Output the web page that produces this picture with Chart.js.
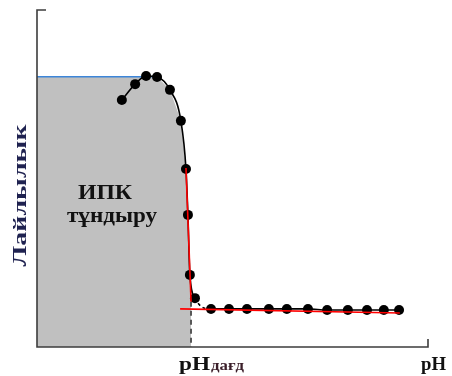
<!DOCTYPE html>
<html>
<head>
<meta charset="utf-8">
<script src="https://cdn.jsdelivr.net/npm/chart.js@4.4.1/dist/chart.umd.min.js"></script>
<style>
  html, body { margin: 0; padding: 0; background: #fff; }
  #wrap { width: 452px; height: 376px; }
</style>
</head>
<body>
<div id="wrap"><canvas id="chart" width="452" height="376"></canvas></div>
<script>
const phValues = [2.17, 2.51, 2.79, 3.07, 3.40, 3.68, 3.81, 3.86, 3.91, 4.04, 4.45, 4.91, 5.37, 5.93, 6.39, 6.93, 7.42, 7.95, 8.44, 8.87, 9.26];
const turbidity = [7.33, 7.80, 8.04, 8.01, 7.63, 6.71, 5.28, 3.92, 2.14, 1.45, 1.13, 1.13, 1.13, 1.13, 1.13, 1.13, 1.10, 1.10, 1.10, 1.10, 1.10];

// shaded precipitation zone (under the plateau and the falling branch)
const zoneX = [0, 3.07, 3.40, 3.68, 3.81, 3.86, 3.91, 3.94, 3.94];
const zoneY = [8.02, 8.02, 7.63, 6.71, 5.28, 3.92, 2.14, 1.34, 0];

// plateau level (blue line)
const plateauX = [0, 2.94];
const plateauY = [8.02, 8.02];

// tangent lines (red)
const steepX = [3.81, 3.94];
const steepY = [5.31, 1.34];
const flatX = [3.66, 9.28];
const flatY = [1.13, 1.01];

// pH of coagulation (dashed marker)
const pHdagd = 3.94;

const toPoints = (xs, ys) => xs.map((x, i) => ({ x, y: ys[i] }));

const SERIF = '"Liberation Serif", "DejaVu Serif", serif';

// draw text horizontally stretched to a given width
function fitText(ctx, text, x, y, font, width, color, align) {
    ctx.save();
    ctx.font = font;
    ctx.fillStyle = color;
    ctx.textBaseline = 'alphabetic';
    const w = ctx.measureText(text).width;
    const k = width / w;
    ctx.translate(x, y);
    ctx.scale(k, 1);
    ctx.textAlign = align || 'left';
    ctx.fillText(text, 0, 0);
    ctx.restore();
}

const decorPlugin = {
    id: 'decor',
    afterDatasetsDraw(chart) {
        const { ctx, chartArea: a, scales } = chart;
        const xs = scales.x, ys = scales.y;

        // dashed pH marker
        ctx.save();
        ctx.strokeStyle = '#111';
        ctx.lineWidth = 1.3;
        ctx.setLineDash([5, 4]);
        ctx.beginPath();
        ctx.moveTo(xs.getPixelForValue(pHdagd), ys.getPixelForValue(steepY[1]));
        ctx.lineTo(xs.getPixelForValue(pHdagd), a.bottom);
        ctx.stroke();
        ctx.restore();

        // axes
        ctx.save();
        ctx.strokeStyle = '#3c3c3c';
        ctx.lineWidth = 1.6;
        ctx.beginPath();
        ctx.moveTo(a.left + 9, a.top);
        ctx.lineTo(a.left, a.top);
        ctx.lineTo(a.left, a.bottom);
        ctx.lineTo(a.right, a.bottom);
        ctx.lineTo(a.right, a.bottom - 8);
        ctx.stroke();
        ctx.restore();
    },
    afterDraw(chart) {
        const { ctx, chartArea: a, scales } = chart;
        const bold = (s) => 'bold ' + s + 'px ' + SERIF;

        // y axis title, rotated
        ctx.save();
        ctx.translate(a.left - 11, (a.top + a.bottom) / 2 + 17);
        ctx.rotate(-Math.PI / 2);
        fitText(ctx, 'Лайлылык', -71, 0, bold(19), 142, '#1f2250', 'left');
        ctx.restore();

        // zone label
        ctx.save();
        ctx.textAlign = 'center';
        fitText(ctx, 'ИПК', 105, 199, bold(21), 54, '#111', 'center');
        fitText(ctx, 'тұндыру', 112, 222, bold(21), 90, '#111', 'center');
        ctx.restore();

        // x labels
        const px = scales.x.getPixelForValue(pHdagd);
        fitText(ctx, 'pH', px - 12, 370, bold(19), 31, '#111', 'left');
        fitText(ctx, 'дағд', px + 20, 370, bold(15), 33, '#3b1f2a', 'left');
        fitText(ctx, 'pH', a.right - 7, 370, bold(19), 25, '#111', 'left');
    }
};

new Chart(document.getElementById('chart'), {
    type: 'scatter',
    data: {
        datasets: [
            {
                data: toPoints(zoneX, zoneY),
                showLine: true,
                fill: 'origin',
                backgroundColor: '#c0c0c0',
                borderWidth: 0,
                pointRadius: 0,
                order: 5
            },
            {
                data: toPoints(plateauX, plateauY),
                showLine: true,
                borderColor: '#3d85d8',
                borderWidth: 1.5,
                pointRadius: 0,
                order: 4
            },
            {
                data: toPoints(steepX, steepY),
                showLine: true,
                borderColor: '#ff0000',
                borderWidth: 1.6,
                pointRadius: 0,
                order: 1
            },
            {
                data: toPoints(flatX, flatY),
                showLine: true,
                borderColor: '#ff0000',
                borderWidth: 1.6,
                pointRadius: 0,
                order: 1
            },
            {
                data: toPoints(phValues, turbidity),
                showLine: true,
                borderColor: '#000',
                borderWidth: 1.6,
                cubicInterpolationMode: 'monotone',
                pointRadius: 5,
                pointBackgroundColor: '#000',
                pointBorderColor: '#000',
                pointBorderWidth: 0,
                segment: {
                    borderDash: (c) => c.p0DataIndex === 9 ? [3, 3] : undefined
                },
                order: 2
            }
        ]
    },
    options: {
        responsive: false,
        animation: false,
        events: [],
        layout: { padding: { left: 37, top: 10, right: 24, bottom: 29 } },
        plugins: {
            legend: { display: false },
            tooltip: { enabled: false }
        },
        scales: {
            x: { type: 'linear', min: 0, max: 10, display: false },
            y: { type: 'linear', min: 0, max: 10, display: false }
        }
    },
    plugins: [decorPlugin]
});
</script>
</body>
</html>
